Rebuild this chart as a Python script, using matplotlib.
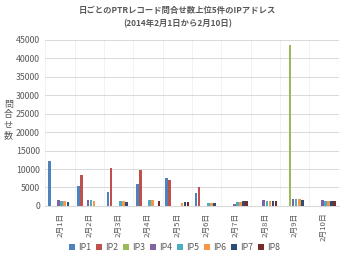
import matplotlib.pyplot as plt
import numpy as np

plt.rcParams['font.family'] = ['Noto Sans CJK JP', 'DejaVu Sans']

days = ['2月1日', '2月2日', '2月3日', '2月4日', '2月5日',
        '2月6日', '2月7日', '2月8日', '2月9日', '2月10日']
ip_names = ['IP1', 'IP2', 'IP3', 'IP4', 'IP5', 'IP6', 'IP7', 'IP8']
ip1 = [12300, 5300, 3800, 5900, 7600, 3600, 0, 0, 0, 0]
ip2 = [0, 8500, 10300, 9800, 6900, 5200, 0, 0, 0, 0]
ip3 = [0, 0, 0, 0, 0, 0, 0, 0, 43500, 0]
ip4 = [1700, 1700, 0, 0, 0, 0, 500, 1700, 1800, 1700]
ip5 = [1400, 1500, 1200, 1500, 0, 800, 1000, 1300, 1800, 1400]
ip6 = [1400, 1400, 1200, 1500, 800, 800, 1000, 1200, 1800, 1400]
ip7 = [1100, 0, 1100, 0, 1000, 700, 1300, 1200, 1500, 1400]
ip8 = [0, 0, 0, 1400, 1000, 0, 1300, 1200, 0, 1400]
series = [ip1, ip2, ip3, ip4, ip5, ip6, ip7, ip8]
colors = ['#4F81BD', '#C0504D', '#9BBB59', '#8064A2',
          '#4BACC6', '#F79646', '#2C4D75', '#772C2A']
ylabel = '問合せ数'

fig = plt.figure(figsize=(3.42, 2.59), dpi=100)
ax = fig.add_axes([0.133, 0.205, 0.857, 0.641])

x = np.arange(len(days))
w = 0.105
for i, (vals, c) in enumerate(zip(series, colors)):
    ax.bar(x + (i - 3.5) * w, vals, width=w * 0.85, color=c, label=ip_names[i], zorder=3)

ax.set_xlim(-0.5, len(days) - 0.5)
ax.set_ylim(0, 45000)
ax.set_yticks(np.arange(0, 45001, 5000))
ax.set_xticks(x)
ax.set_xticklabels(days, rotation=90)
ax.set_xticks(np.arange(-0.5, len(days), 1), minor=True)
ax.tick_params(axis='y', labelsize=6.3, colors='#595959', length=0, pad=4)
ax.tick_params(axis='x', labelsize=5.6, colors='#595959', length=0, pad=5)
ax.tick_params(axis='x', which='minor', length=0)
ax.grid(axis='y', color='#D9D9D9', linewidth=0.7, zorder=0)
ax.grid(axis='x', which='minor', color='#F0F0F0', linewidth=0.6, zorder=0)
for s in ['top', 'right', 'left']:
    ax.spines[s].set_visible(False)
ax.spines['bottom'].set_color('#D9D9D9')

# vertical, stacked axis label
for k, ch in enumerate(ylabel):
    fig.text(0.024, 0.595 - k * 0.039, ch, fontsize=6.5, color='#595959',
             ha='center', va='center')

fig.text(0.52, 0.975, '日ごとのPTRレコード問合せ数上位5件のIPアドレス\n(2014年2月1日から2月10日)',
         fontsize=6.0, fontweight='bold', color='#595959', ha='center', va='top',
         linespacing=1.6)

fig.legend(loc='center', bbox_to_anchor=(0.51, 0.045), ncol=8, frameon=False,
           fontsize=6.3, handlelength=0.7, handleheight=0.7, handletextpad=0.3,
           columnspacing=0.6, labelcolor='#595959')

fig.savefig('out.png', dpi=100)
